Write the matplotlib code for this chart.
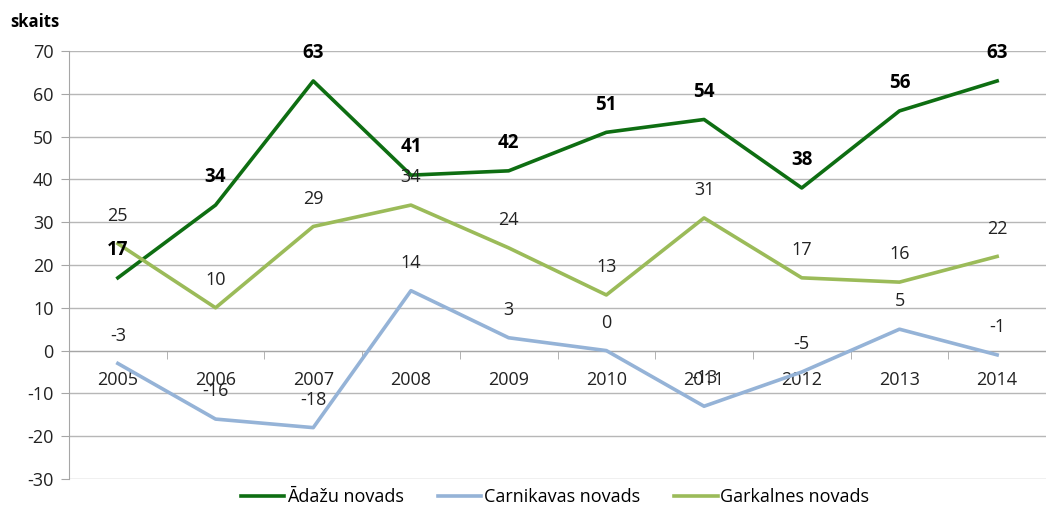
import matplotlib.pyplot as plt
from matplotlib.ticker import MultipleLocator

plt.rcParams['font.family'] = ['Open Sans', 'DejaVu Sans']
plt.rcParams['axes.unicode_minus'] = False

years = ['2005', '2006', '2007', '2008', '2009', '2010', '2011', '2012', '2013', '2014']
adazi = [17, 34, 63, 41, 42, 51, 54, 38, 56, 63]
carnikava = [-3, -16, -18, 14, 3, 0, -13, -5, 5, -1]
garkalne = [25, 10, 29, 34, 24, 13, 31, 17, 16, 22]

fig = plt.figure(figsize=(10.46, 5.08), dpi=100)
ax = fig.add_axes([69 / 1046, 1 - 479 / 508, 1 - 69 / 1046, (479 - 51) / 508])

x = list(range(len(years)))
ax.plot(x, adazi, color='#0e6e12', lw=2.6, label='Ādažu novads', zorder=3)
ax.plot(x, carnikava, color='#95b3d7', lw=2.6, label='Carnikavas novads', zorder=3)
ax.plot(x, garkalne, color='#9bbb59', lw=2.6, label='Garkalnes novads', zorder=3)

# data labels above each point
for i in x:
    ax.annotate(str(adazi[i]), (i, adazi[i]), xytext=(0, 20), textcoords='offset points',
                ha='center', va='center', fontsize=13.5, fontweight='bold', color='black')
    ax.annotate(str(garkalne[i]), (i, garkalne[i]), xytext=(0, 20), textcoords='offset points',
                ha='center', va='center', fontsize=13, color='#222222')
    ax.annotate(str(carnikava[i]), (i, carnikava[i]), xytext=(0, 20), textcoords='offset points',
                ha='center', va='center', fontsize=13, color='#222222')

ax.set_ylim(-30, 70)
ax.set_xlim(-0.5, 9.5 - 11 / 99)
ax.yaxis.set_major_locator(MultipleLocator(10))
ax.grid(axis='y', color='#b7b7b7', lw=1)
ax.set_axisbelow(True)

for s in ['top', 'right']:
    ax.spines[s].set_visible(False)
ax.spines['left'].set_color('#a6a6a6')
ax.spines['bottom'].set_position(('data', 0))
ax.spines['bottom'].set_color('#a6a6a6')

ax.set_xticks(x)
ax.set_xticklabels(years)
ax.set_xticks([i + 0.5 for i in x], minor=True)
ax.tick_params(axis='x', which='major', length=0, pad=15, labelsize=13, colors='#222222')
ax.tick_params(axis='x', which='minor', length=6, direction='out', color='#a6a6a6')
ax.tick_params(axis='y', length=6, color='#a6a6a6', labelsize=13, colors='#222222', pad=5)

fig.text(10 / 1046, 1 - 22 / 508, 'skaits', fontsize=12, fontweight='bold', va='center', ha='left')

fig.legend(loc='center', bbox_to_anchor=(555 / 1046, 1 - 497 / 508), ncol=3, frameon=False,
           fontsize=13, handlelength=2.4, handletextpad=0.15, columnspacing=1.9)

fig.savefig('out.png', dpi=100)
